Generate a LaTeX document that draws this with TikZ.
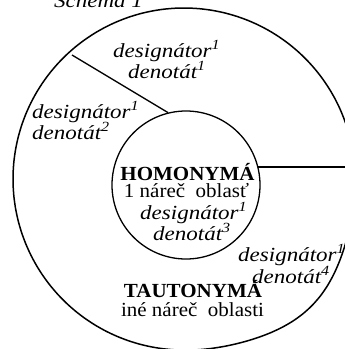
\documentclass[tikz,border=0pt]{standalone}
\usepackage{fontspec}
\setmainfont{Liberation Serif}
\newfontfamily\wideit[FakeStretch=1.15]{Liberation Serif Italic}
\newfontfamily\widerm[FakeStretch=1.05]{Liberation Serif}
\begin{document}
\begin{tikzpicture}[x=1pt,y=-1pt,
  lbl/.style={inner sep=0pt, anchor=base west, font=\fontsize{20}{21}\selectfont\wideit},
  big/.style={inner sep=0pt, anchor=base, font=\fontsize{20}{21}\selectfont\widerm},
  ring/.style={line width=1.5pt},
  spoke/.style={line width=1.3pt}]
\useasboundingbox (0,0) rectangle (345,349);
\clip (0,0) rectangle (345,349);
% title (cut off at the top)
\node[lbl] (title) at (54,7) {Schéma 1};
% outer ring (slightly bulging to the lower right, as in the scan)
\draw[ring] plot[domain=0:360, samples=90, smooth cycle]
  ({184+(171+9*exp(-1*pow((\x-45)/22,2)))*cos(\x)},{179+(171+9*exp(-1*pow((\x-45)/22,2)))*sin(\x)});
% inner circle
\node[circle, draw, line width=1.3pt, minimum size=148pt, inner sep=0pt] (inner) at (186,185) {};
\coordinate (o1) at (72,55);
\coordinate (o2) at (360,167);
\draw[spoke] (o1) -- (inner.104);
\draw[spoke] (inner.14) -- (inner.14 -| o2);
% texts
\node[lbl] (t1a) at (113,57) {designátor\textsuperscript{1}};
\node[lbl] (t1b) at (128,78) {denotát\textsuperscript{1}};
\node[lbl] (t2a) at (32,118) {designátor\textsuperscript{1}};
\node[lbl] (t2b) at (32,139) {denotát\textsuperscript{2}};
\node[big] (homo) at (187.5,180) {\textbf{HOMONYMÁ}};
\node[big] (homo2) at (186.5,197) {1 náreč\ \ oblasť};
\node[lbl] (t3a) at (140,219) {designátor\textsuperscript{1}};
\node[lbl] (t3b) at (153,240) {denotát\textsuperscript{3}};
\node[lbl] (t4a) at (238,261) {designátor\textsuperscript{1}};
\node[lbl] (t4b) at (252,283) {denotát\textsuperscript{4}};
\node[big] (tauto) at (193,297) {\textbf{TAUTONYMÁ}};
\node[big] (tauto2) at (192.5,316) {iné náreč\ \ oblasti};
\end{tikzpicture}
\end{document}
